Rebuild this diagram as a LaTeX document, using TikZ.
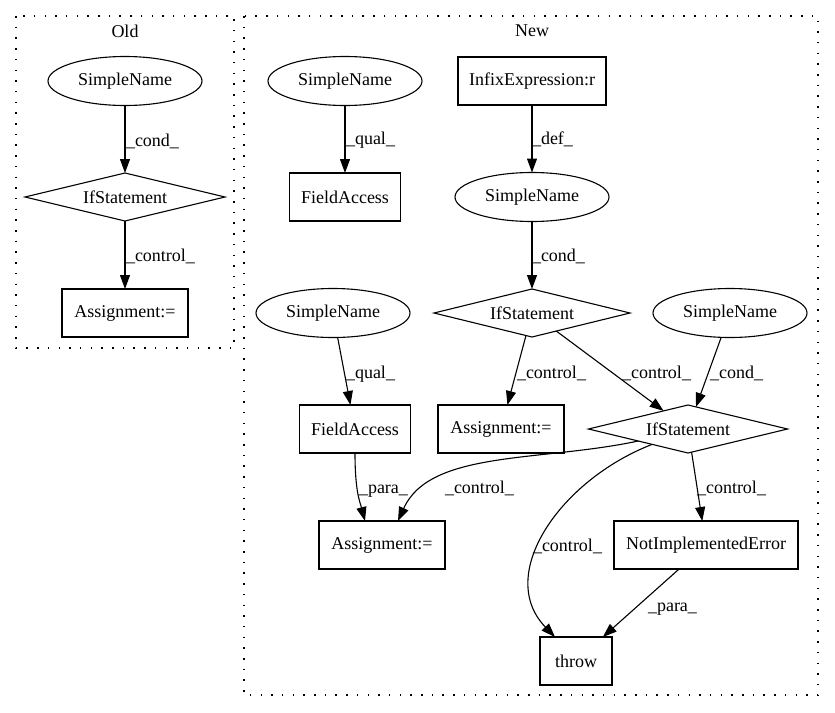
\documentclass[tikz,border=0pt]{standalone}
\usepackage{fontspec}
\setmainfont{Liberation Serif}
\usetikzlibrary{shapes.geometric,arrows.meta,calc}
\begin{document}
\begin{tikzpicture}[x=1pt,y=-1pt,
  every node/.style={font=\fontsize{18}{21}\selectfont, inner sep=0pt, outer sep=0pt},
  ell/.style={draw, ellipse, line width=1.1pt, minimum width=154pt, minimum height=49pt},
  box/.style={draw, rectangle, line width=1.1pt, minimum height=48pt},
  dia/.style={draw, diamond, aspect=4.17, line width=1.1pt, minimum width=200pt, minimum height=48pt},
  arr/.style={draw, line width=1.1pt, -{Triangle[length=14pt,width=10pt]}},
  elab/.style={anchor=base west},
  cluster/.style={draw, line width=1.3pt, dash pattern=on 1.5pt off 9.2pt}
]
\useasboundingbox (0,0) rectangle (835,712);
% clusters
\draw[cluster] (16,16) rectangle (234,348);
\draw[cluster] (244,16) rectangle (818,695);
\node (oldlbl) at (125,31) {Old};
\node (newlbl) at (532,31) {New};

% Old
\node[ell] (osn) at (125,81) {SimpleName};
\node[dia] (oif) at (125,197) {IfStatement};
\node[box, minimum width=126pt] (oas) at (125,313) {Assignment:=};
\draw[arr] (osn) -- (oif);
\draw[arr] (oif) -- (oas);
\node[elab] (l1) at (126,146) {\_cond\_};
\node[elab] (l2) at (126,261) {\_control\_};

% New
\node[ell] (sn1) at (345,81) {SimpleName};
\node[box, minimum width=111pt] (fa1) at (345,197) {FieldAccess};
\node[box, minimum width=148pt] (ie) at (532,81) {InfixExpression:r};
\node[ell] (sn2) at (532,197) {SimpleName};
\node[dia, minimum width=196pt] (if1) at (532,313) {IfStatement};
\node[ell] (sn3) at (333,313) {SimpleName};
\node[ell] (sn4) at (730,313) {SimpleName};
\node[box, minimum width=111pt] (fa2) at (355,429) {FieldAccess};
\node[box, minimum width=126pt] (as1) at (501,429) {Assignment:=};
\node[dia, minimum width=199pt] (if2) at (688,429) {IfStatement};
\node[box, minimum width=126pt] (as2) at (382,545) {Assignment:=};
\node[box, minimum width=184pt] (nie) at (706,545) {NotImplementedError};
\node[box, minimum width=72pt] (thr) at (576,661) {throw};

\draw[arr] (sn1) -- (fa1);
\draw[arr] (ie) -- (sn2);
\draw[arr] (sn2) -- (if1);
\draw[arr] (sn3) -- (fa2);
\draw[arr] (if1) -- (as1);
\draw[arr] (if1) -- (if2);
\draw[arr] (sn4) -- (if2);
\draw[arr] (fa2.south) .. controls (355,492) and (360,502) .. ([xshift=-17pt]as2.north);
\draw[arr] (if2.south west) .. controls (540,462) and (430,450) .. ([xshift=16pt]as2.north);
\draw[arr] ($(if2.west)!0.64!(if2.south)$) .. controls (560,480) and (495,575) .. ([xshift=-21pt]thr.north);
\draw[arr] (if2) -- (nie);
\draw[arr] (nie) -- (thr);

\node[elab] (q1) at (346,144) {\_qual\_};
\node[elab] (d1) at (532,144) {\_def\_};
\node[elab] (c1) at (532,261) {\_cond\_};
\node[elab] (q2) at (346,378) {\_qual\_};
\node[elab] (k1) at (517,378) {\_control\_};
\node[elab] (k2) at (622,378) {\_control\_};
\node[elab] (c2) at (710,378) {\_cond\_};
\node[elab] (p1) at (359,493) {\_para\_};
\node[elab] (k3) at (445,493) {\_control\_};
\node[elab] (k4) at (533,551) {\_control\_};
\node[elab] (k5) at (697,493) {\_control\_};
\node[elab] (p2) at (648,611) {\_para\_};
\end{tikzpicture}
\end{document}
